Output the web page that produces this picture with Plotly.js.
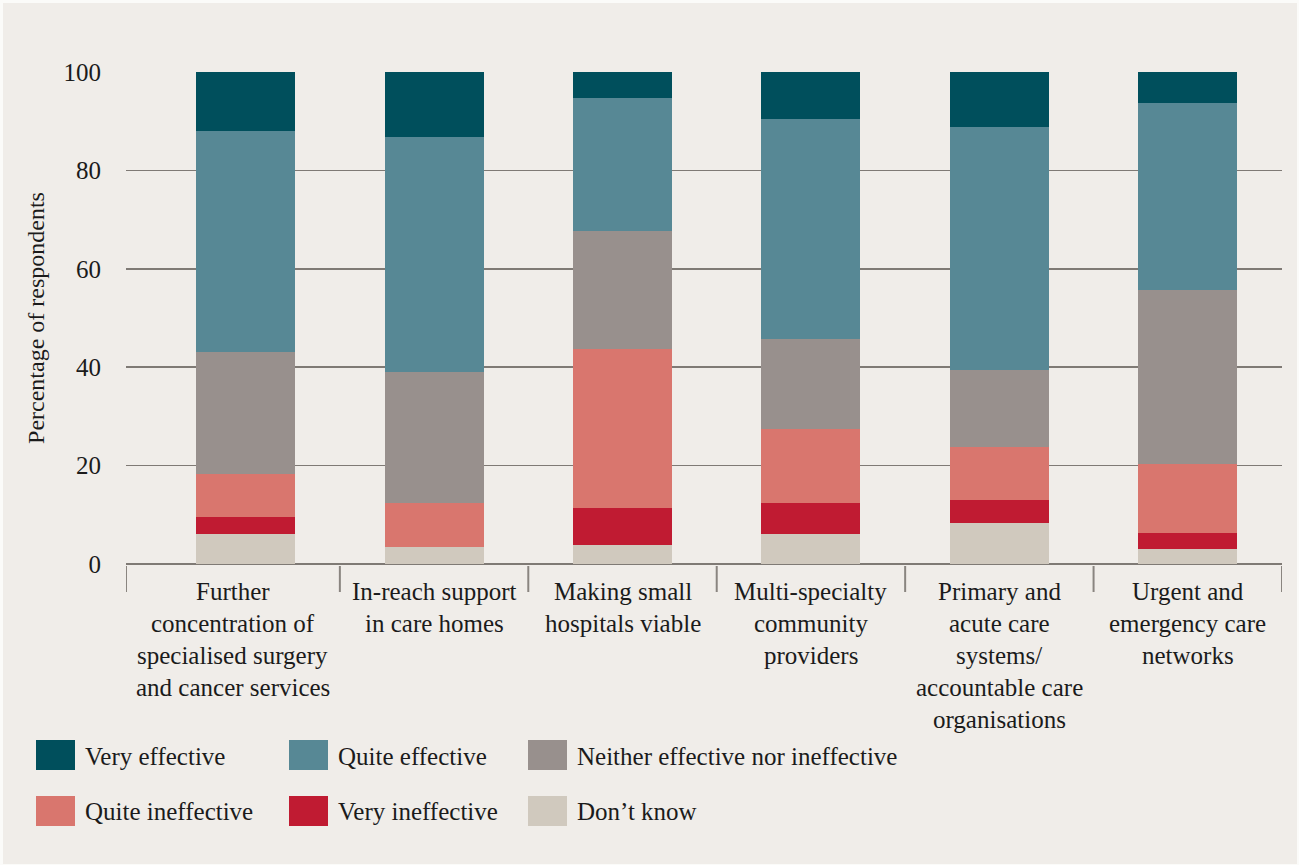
<!DOCTYPE html>
<html>
<head>
<meta charset="utf-8">
<script src="https://cdn.plot.ly/plotly-3.0.1.min.js"></script>
<style>html,body{margin:0;padding:0;background:#ffffff;}#chart{width:1299px;height:865px;}</style>
</head>
<body>
<div id="chart"></div>
<script>
// ---- data ----
const categories = [
  "Further<br>concentration of<br>specialised surgery<br>and cancer services",
  "In-reach support<br>in care homes",
  "Making small<br>hospitals viable",
  "Multi-specialty<br>community<br>providers",
  "Primary and<br>acute care<br>systems/<br>accountable care<br>organisations",
  "Urgent and<br>emergency care<br>networks"
];
const seriesNames = ["Very effective", "Quite effective", "Neither effective nor ineffective",
                     "Quite ineffective", "Very ineffective", "Don\u2019t know"];
const veryEffective    = [11.9, 13.3, 5.2, 9.5, 11.1, 6.2];
const quiteEffective   = [45.0, 47.7, 27.2, 44.8, 49.4, 38.2];
const neither          = [24.8, 26.7, 24.0, 18.3, 15.7, 35.2];
const quiteIneffective = [8.8, 8.9, 32.3, 15.1, 10.8, 14.1];
const veryIneffective  = [3.3, 0, 7.5, 6.1, 4.7, 3.3];
const dontKnow         = [6.2, 3.4, 3.8, 6.2, 8.3, 3.0];
const yTicks = [0, 20, 40, 60, 80, 100];
const yTitle = "Percentage of respondents";

// ---- styles ----
const colors = ["#004f5c", "#578895", "#98908d", "#d9766e", "#c01b32", "#d0c9be"];
const FONT = "'Liberation Serif', 'EB Garamond', Garamond, serif";
const TEXT = "#1b1b1b";
const BG = "#f0ede9";

// pixel -> paper helpers (plot area 126..1282 x 72..564)
const L = 126, R = 1282, T = 72, B = 564;
const px = p => (p - L) / (R - L);
const py = p => (B - p) / (B - T);
const xRange = [-0.635, 5.5];

const xs = categories.map((_, i) => i);
const stackOrder = [
  [5, dontKnow], [4, veryIneffective], [3, quiteIneffective],
  [2, neither], [1, quiteEffective], [0, veryEffective]
];
const traces = stackOrder.map(([k, vals]) => ({
  type: "bar", x: xs, y: vals, name: seriesNames[k],
  marker: {color: colors[k], line: {width: 0}},
  width: 0.526, showlegend: false, hoverinfo: "name+y"
}));

const shapes = [];
const annotations = [];

// outer background panel
shapes.push({type: "rect", xref: "paper", yref: "paper", layer: "below",
  x0: px(3), x1: px(1297), y0: py(864), y1: py(3),
  fillcolor: BG, line: {width: 0}});

// category separator ticks (in data units: left edge, then between categories)
const seps = [xRange[0]].concat(xs.map(i => i + 0.5));
seps.forEach(s => shapes.push({type: "line", xref: "x", yref: "paper",
  x0: s, x1: s, y0: py(566), y1: py(592),
  line: {color: "#8a8580", width: 2}}));

// category labels, centred between separators, one annotation per line
categories.forEach((lab, i) => {
  const cx = (seps[i] + seps[i + 1]) / 2;
  lab.split("<br>").forEach((line, j) => {
    annotations.push({xref: "x", yref: "paper", x: cx, y: py(591 + 32 * j),
      text: line, showarrow: false, xanchor: "center", yanchor: "middle",
      font: {family: FONT, size: 25, color: TEXT}});
  });
});

// custom legend
const legendOrder = [0, 1, 2, 3, 4, 5];
const colX = [36, 289, 528];
const rowY = [755, 811];
legendOrder.forEach((k, n) => {
  const c = n % 3, r = Math.floor(n / 3);
  const x0 = colX[c], yc = rowY[r];
  shapes.push({type: "rect", xref: "paper", yref: "paper",
    x0: px(x0), x1: px(x0 + 39), y0: py(yc + 15), y1: py(yc - 15),
    fillcolor: colors[k], line: {width: 0}});
  annotations.push({xref: "paper", yref: "paper", x: px(x0 + 47), y: py(yc + 1),
    text: seriesNames[k], showarrow: false, xanchor: "left", yanchor: "middle",
    font: {family: FONT, size: 25, color: TEXT}});
});

const layout = {
  width: 1299, height: 865,
  margin: {l: L, r: 1299 - R, t: T, b: 865 - B, pad: 0},
  paper_bgcolor: "#fbfbf9",
  plot_bgcolor: "rgba(0,0,0,0)",
  barmode: "stack",
  bargap: 0,
  showlegend: false,
  font: {family: FONT, color: TEXT},
  xaxis: {range: xRange, showticklabels: false, showgrid: false,
          zeroline: false, showline: false, ticks: "", fixedrange: true},
  yaxis: {range: [0, 100], tickvals: yTicks, ticktext: yTicks.map(String),
          showgrid: true, gridcolor: "#7f7a75", gridwidth: 1.6,
          zeroline: true, zerolinecolor: "#7f7a75", zerolinewidth: 1.6,
          showline: false, ticks: "", ticklabelstandoff: 24,
          tickfont: {family: FONT, size: 25, color: TEXT},
          title: {text: yTitle, standoff: 12, font: {family: FONT, size: 24, color: TEXT}},
          fixedrange: true},
  shapes: shapes,
  annotations: annotations
};

Plotly.newPlot("chart", traces, layout, {displayModeBar: false, staticPlot: true});
</script>
</body>
</html>
